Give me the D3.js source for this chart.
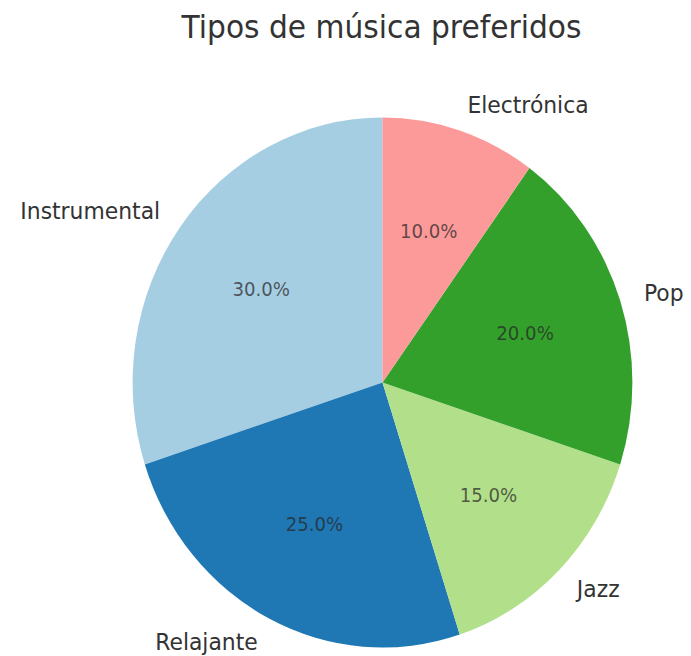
<!DOCTYPE html>
<html>
<head>
<meta charset="utf-8">
<script src="https://cdn.jsdelivr.net/npm/d3@7"></script>
<style>
  body { margin: 0; background: #fff; }
  text { font-family: "DejaVu Sans", sans-serif; }
</style>
</head>
<body>
<svg id="chart" width="691" height="656"></svg>
<script>
// pie data, counterclockwise from the top like matplotlib
const categories = ["Instrumental", "Relajante", "Jazz", "Pop", "Electrónica"];
const shares = [30, 25, 15, 20, 10];
const colors = ["#a6cee3", "#1f78b4", "#b2df8a", "#33a02c", "#fb9a99"];
const title = "Tipos de música preferidos";

const svg = d3.select("#chart");
const cx = 382.5, cy = 382.5, radius = 265, squeeze = 0.943;

svg.append("text")
    .attr("x", 381.5).attr("y", 38)
    .attr("text-anchor", "middle")
    .attr("transform", "translate(381.5,0) scale(" + squeeze + ",1) translate(-381.5,0)")
    .attr("font-size", 31.5)
    .attr("fill", "#333")
    .text(title);

const g = svg.append("g")
    .attr("transform", "translate(" + cx + "," + cy + ") scale(" + squeeze + ",1)");

const total = d3.sum(shares);
// d3 angles run clockwise from 12 o'clock; negate to go counterclockwise
const pie = d3.pie().sort(null).value(d => d.v)
    .startAngle(0).endAngle(-2 * Math.PI);
const arcs = pie(categories.map((c, i) => ({ c, v: shares[i], col: colors[i] })));
const arc = d3.arc().innerRadius(0).outerRadius(radius);

g.selectAll("path.slice")
    .data(arcs)
    .enter().append("path")
    .attr("class", "slice")
    .attr("d", arc)
    .attr("fill", d => d.data.col);

const mid = d => (d.startAngle + d.endAngle) / 2;
const pt = (a, r) => [r * Math.sin(a), -r * Math.cos(a)];

g.selectAll("text.label")
    .data(arcs)
    .enter().append("text")
    .attr("class", "label")
    .attr("x", d => pt(mid(d), radius * 1.1)[0])
    .attr("y", d => pt(mid(d), radius * 1.1)[1])
    .attr("dy", "0.35em")
    .attr("text-anchor", d => pt(mid(d), 1)[0] < 0 ? "end" : "start")
    .attr("font-size", 23.2)
    .attr("fill", "#333")
    .text(d => d.data.c);

g.selectAll("text.pct")
    .data(arcs)
    .enter().append("text")
    .attr("class", "pct")
    .attr("x", d => pt(mid(d), radius * 0.6)[0])
    .attr("y", d => pt(mid(d), radius * 0.6)[1])
    .attr("dy", "0.35em")
    .attr("text-anchor", "middle")
    .attr("font-size", 19.2)
    .attr("fill", "#262626")
    .attr("fill-opacity", 0.72)
    .text(d => (d.data.v / total * 100).toFixed(1) + "%");
</script>
</body>
</html>
